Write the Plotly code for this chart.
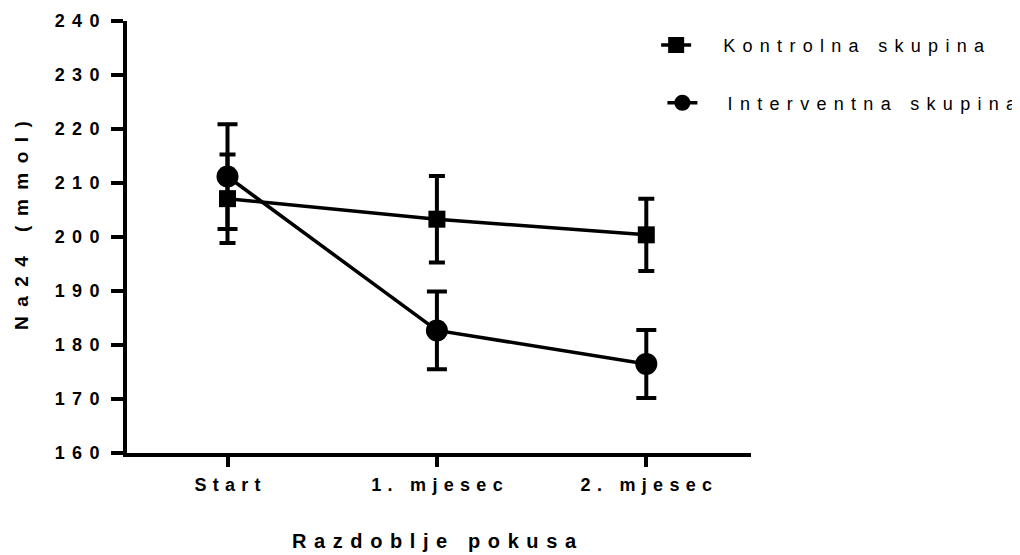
import plotly.graph_objects as go

# ---- data ----
categories = ["Start", "1. mjesec", "2. mjesec"]
kontrolna_mean = [207.1, 203.3, 200.4]
kontrolna_err = [8.2, 8.0, 6.7]
interventna_mean = [211.2, 182.7, 176.5]
interventna_err = [9.7, 7.2, 6.3]
y_ticks = [160, 170, 180, 190, 200, 210, 220, 230, 240]
series_names = ["Kontrolna skupina", "Interventna skupina"]
x_title = "Razdoblje pokusa"
y_title = "Na24 (mmol)"


def spaced(s, px):
    """Letter-spaced text, without trailing spacing after the last glyph."""
    if len(s) < 2:
        return s
    return f'<span style="letter-spacing:{px}px">{s[:-1]}</span>{s[-1]}'


FONT = "Liberation Sans, Arial, sans-serif"
ZW = "\u200b"

fig = go.Figure()

fig.add_trace(go.Scatter(
    x=categories, y=kontrolna_mean,
    name=ZW + "\u2003\u2002" + spaced(series_names[0], 7.3),
    mode="lines+markers",
    line=dict(color="black", width=3.5),
    marker=dict(symbol="square", size=17, color="black"),
    error_y=dict(type="data", array=kontrolna_err, visible=True,
                 color="black", thickness=4, width=8),
    legend="legend",
))
fig.add_trace(go.Scatter(
    x=categories, y=interventna_mean,
    name=ZW + "\u2003\u2009\u2009" + spaced(series_names[1], 7.3),
    mode="lines+markers",
    line=dict(color="black", width=3.5),
    marker=dict(symbol="circle", size=22, color="black"),
    error_y=dict(type="data", array=interventna_err, visible=True,
                 color="black", thickness=4, width=10),
    legend="legend2",
))

fig.update_layout(
    width=1020, height=555,
    margin=dict(l=119, r=277, t=13, b=110, autoexpand=False),
    paper_bgcolor="white", plot_bgcolor="white",
    font=dict(family=FONT, color="black"),
    showlegend=True,
    legend=dict(x=0.848, y=0.944, xanchor="left", yanchor="middle",
                font=dict(size=18, family=FONT, color="black"),
                bgcolor="rgba(0,0,0,0)"),
    legend2=dict(x=0.858, y=0.810, xanchor="left", yanchor="middle",
                 font=dict(size=18, family=FONT, color="black"),
                 bgcolor="rgba(0,0,0,0)"),
)

fig.update_xaxes(
    type="category",
    range=[-0.48, 2.5],
    showgrid=False, zeroline=False,
    showline=True, linecolor="black", linewidth=4,
    ticks="outside", ticklen=10, tickwidth=4, tickcolor="black",
    tickmode="array", tickvals=categories,
    ticktext=[spaced(c, 6.3) for c in categories],
    tickfont=dict(size=18, family=FONT, color="black", weight="bold"),
    ticklabelstandoff=2,
    title=dict(text=spaced(x_title, 7.6) + "\u2002" + ZW, standoff=41,
               font=dict(size=20, family=FONT, color="black", weight="bold")),
    automargin=False,
)
fig.update_yaxes(
    range=[160, 240],
    showgrid=False, zeroline=False,
    showline=True, linecolor="black", linewidth=4,
    ticks="outside", ticklen=12, tickwidth=4, tickcolor="black",
    tickmode="array", tickvals=y_ticks,
    ticktext=[spaced(str(v), 7.3) for v in y_ticks],
    tickfont=dict(size=18, family=FONT, color="black", weight="bold"),
    ticklabelstandoff=8,
    title=dict(text=ZW + "\u2003\u2009" + spaced(y_title, 9.5), standoff=22,
               font=dict(size=19, family=FONT, color="black", weight="bold")),
    automargin=False,
)

fig.write_html("out.html")
